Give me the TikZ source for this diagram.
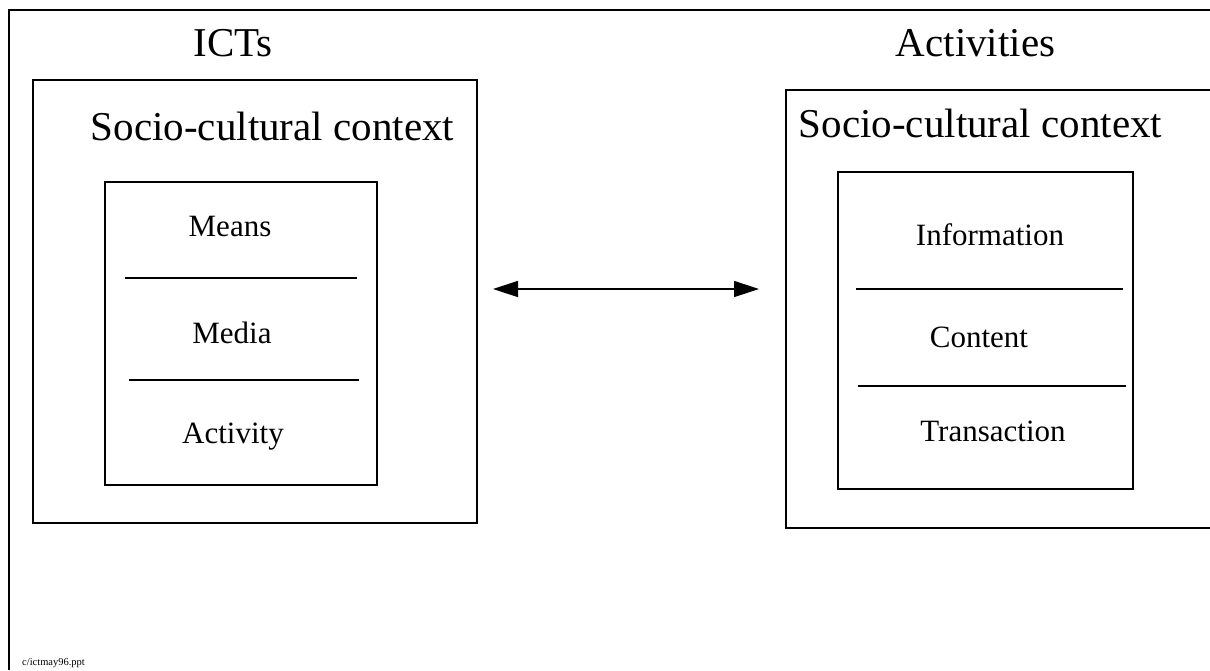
\documentclass[tikz,border=0pt]{standalone}
\usepackage{fontspec}
\setmainfont{Liberation Serif}
\usetikzlibrary{arrows.meta}
\begin{document}
\begin{tikzpicture}[x=1pt,y=-1pt,
  frame/.style={line width=1.6pt},
  box/.style={line width=1.4pt},
  rule/.style={line width=1.3pt},
  title/.style={anchor=base,inner sep=0pt,font=\fontsize{41}{41}\selectfont},
  ctx/.style={anchor=base,inner sep=0pt,font=\fontsize{41}{41}\selectfont},
  item/.style={anchor=base,inner sep=0pt,font=\fontsize{31}{31}\selectfont},
  link/.style={line width=1.5pt,{Triangle[length=25pt,width=16pt]}-{Triangle[length=25pt,width=16pt]}}]
\useasboundingbox (0,0) rectangle (1210,670);
\fill[white] (0,0) rectangle (1210,670);
% page frame (open on the right and at the bottom)
\draw[frame] (9,670) -- (9,10) -- (1212,10);
% left column: ICTs
\node[title] (ictsT) at (233,56) {ICTs};
\draw[box] (33,80) rectangle (477,523);
\node[ctx] (ctxL) at (272.5,140) {Socio-cultural context};
\draw[box] (105,182) rectangle (377,485);
\node[item] (means) at (230,236) {Means};
\coordinate (l1a) at (125,278); \coordinate (l1b) at (357,278);
\draw[rule] (l1a) -- (l1b);
\node[item] (media) at (232,343) {Media};
\coordinate (l2a) at (129,380); \coordinate (l2b) at (359,380);
\draw[rule] (l2a) -- (l2b);
\node[item] (activity) at (233,443) {Activity};
% right column: Activities (box runs off the right edge)
\node[title] (actT) at (975.5,56) {Activities};
\draw[box] (1212,90) -- (786,90) -- (786,528) -- (1212,528);
\node[ctx] (ctxR) at (980.5,137) {Socio-cultural context};
\draw[box] (838,172) rectangle (1133,489);
\node[item] (info) at (990,245) {Information};
\coordinate (r1a) at (856,289); \coordinate (r1b) at (1123,289);
\draw[rule] (r1a) -- (r1b);
\node[item] (content) at (979,347) {Content};
\coordinate (r2a) at (858,386); \coordinate (r2b) at (1126,386);
\draw[rule] (r2a) -- (r2b);
\node[item] (trans) at (993,441) {Transaction};
% two-way link between the columns
\coordinate (arrL) at (493,289);
\coordinate (arrR) at (759,289);
\draw[link] (arrL) -- (arrR);
% file name
\node[anchor=base west,inner sep=0pt,font=\fontsize{10.5}{10.5}\selectfont] (fname) at (22,665) {c/ictmay96.ppt};
\end{tikzpicture}
\end{document}
